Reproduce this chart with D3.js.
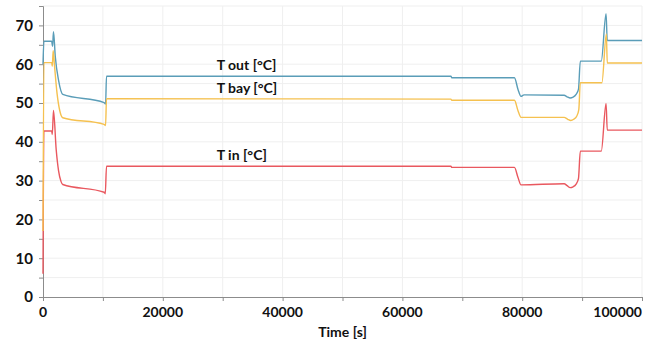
<!DOCTYPE html>
<html>
<head>
<meta charset="utf-8">
<script src="https://cdn.jsdelivr.net/npm/d3@7"></script>
<style>
  body { margin: 0; background: #fff; }
  text { font-family: Lato, "Open Sans", sans-serif; font-weight: 700; fill: #111; }
</style>
</head>
<body>
<div id="chart"></div>
<script>
// time axis ticks
const xTicks = [0, 20000, 40000, 60000, 80000, 100000];
const yTicks = [0, 10, 20, 30, 40, 50, 60, 70];

// T out [°C]
const outTime = [0, 150, 1450, 1600, 1750, 2050, 2600, 3300, 10200, 10450, 10600, 68100, 68250, 78700, 79300, 79800, 80300, 87000, 87500, 88000, 88500, 89000, 89400, 89700, 93200, 94000, 94200, 100000];
const outTemp = [60, 65.9, 65.9, 64.6, 68.4, 62, 55.8, 52.2, 50.1, 49.7, 56.9, 56.9, 56.5, 56.5, 53.5, 51.7, 52.1, 52.0, 51.6, 51.3, 51.5, 52.2, 53.6, 60.8, 60.8, 73, 66.1, 66.1];

// T bay [°C]
const bayTime = [0, 150, 1450, 1550, 1700, 1900, 2350, 2800, 3300, 10200, 10450, 10600, 68100, 68250, 78700, 79300, 79800, 87000, 87600, 88100, 88600, 89100, 89450, 89700, 93300, 94050, 94200, 100000];
const bayTemp = [17, 60.4, 60.4, 59.5, 63.5, 60, 52.4, 48, 46.2, 44.5, 44.2, 51.1, 51.0, 50.7, 50.7, 48.0, 46.3, 46.3, 45.8, 45.5, 45.8, 46.6, 48.3, 55.2, 55.2, 67.8, 60.3, 60.3];

// T in [°C]
const inTime = [0, 150, 1450, 1550, 1750, 2200, 2600, 3000, 3300, 10200, 10400, 10600, 68100, 68250, 78700, 79300, 79800, 87000, 87500, 88000, 88500, 89000, 89400, 89700, 93200, 94000, 94200, 100000];
const inTemp = [6, 42.8, 42.8, 41.9, 48.1, 38, 32.5, 29.8, 29.0, 27.0, 26.6, 33.7, 33.7, 33.4, 33.4, 30.8, 28.9, 29.2, 28.7, 28.2, 28.4, 29.1, 30.6, 37.6, 37.6, 49.9, 43, 43];

const seriesNames = ["T in [°C]", "T out [°C]", "T bay [°C]"];
const seriesColors = ["#e9585f", "#5a9db8", "#f5c150"];

const width = 656, height = 345;
const margin = {top: 6, right: 14, bottom: 48, left: 43};

const svg = d3.select("#chart")
    .append("svg")
    .attr("width", width)
    .attr("height", height);

// scales
const x = d3.scaleLinear()
    .domain([0, 100000])
    .range([margin.left, width - margin.right]);
const y = d3.scaleLinear()
    .domain([0, 75])
    .range([height - margin.bottom, margin.top]);

// grid
const grid = svg.append("g").attr("id", "grid");
grid.selectAll("line.h")
    .data(d3.range(5, 80, 5))
    .enter().append("line")
    .attr("x1", x(0)).attr("x2", x(100000))
    .attr("y1", d => y(d)).attr("y2", d => y(d))
    .attr("stroke", "#efefef");
grid.selectAll("line.v")
    .data(d3.range(10000, 110000, 10000))
    .enter().append("line")
    .attr("x1", d => x(d)).attr("x2", d => x(d))
    .attr("y1", y(0)).attr("y2", y(75))
    .attr("stroke", "#efefef");

// x axis
const xAxis = svg.append("g")
    .attr("transform", `translate(0,${y(0)})`)
    .call(d3.axisBottom(x).tickValues(d3.range(0, 110000, 10000)).tickSize(4).tickFormat(""));
xAxis.select(".domain").attr("stroke", "#8c8c8c");
xAxis.selectAll(".tick line").attr("stroke", "#8c8c8c");
// last label is pulled inside the plot edge
svg.append("g").selectAll("text")
    .data(xTicks)
    .enter().append("text")
    .attr("x", d => x(d))
    .attr("y", y(0) + 20)
    .attr("text-anchor", (d, i) => i === xTicks.length - 1 ? "end" : "middle")
    .attr("font-size", "14px")
    .text(d => d);

// y axis
const yAxis = svg.append("g")
    .attr("transform", `translate(${x(0)},0)`)
    .call(d3.axisLeft(y).tickValues(d3.range(0, 80, 5)).tickSize(4).tickFormat(""));
yAxis.select(".domain").attr("stroke", "#8c8c8c");
yAxis.selectAll(".tick line").attr("stroke", "#8c8c8c");
svg.append("g").selectAll("text")
    .data(yTicks)
    .enter().append("text")
    .attr("x", x(0) - 10)
    .attr("y", d => y(d))
    .attr("dy", "0.36em")
    .attr("text-anchor", "end")
    .attr("font-size", "15px")
    .text(d => d);

// lines
const series = [
    {name: seriesNames[0], time: inTime, temp: inTemp, color: seriesColors[0]},
    {name: seriesNames[1], time: outTime, temp: outTemp, color: seriesColors[1]},
    {name: seriesNames[2], time: bayTime, temp: bayTemp, color: seriesColors[2]}
];
const line = d3.line()
    .x(d => x(d[0]))
    .y(d => y(d[1]))
    .curve(d3.curveMonotoneX);

svg.append("g").attr("id", "lines")
    .selectAll("path")
    .data(series)
    .enter().append("path")
    .attr("d", s => line(s.time.map((t, i) => [t, s.temp[i]])))
    .attr("fill", "none")
    .attr("stroke", s => s.color)
    .attr("stroke-width", 1.4);

// series labels sit just above their plateau
svg.append("g").selectAll("text")
    .data(series)
    .enter().append("text")
    .attr("x", x(29000))
    .attr("y", s => y(s.temp[s.time.indexOf(68100)]) - 6)
    .attr("font-size", "14px")
    .text(s => s.name);

// x axis label
svg.append("text")
    .attr("x", (x(0) + x(100000)) / 2)
    .attr("y", y(0) + 40)
    .attr("text-anchor", "middle")
    .attr("font-size", "14px")
    .text("Time [s]");
</script>
</body>
</html>
